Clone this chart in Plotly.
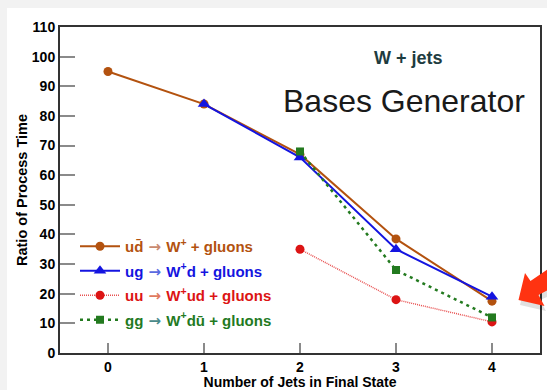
import plotly.graph_objects as go

# Number of jets in the final state
jets = [0, 1, 2, 3, 4]

# Ratio of process time for each subprocess
ud_bar = [95, 84, 67, 38.5, 17.5]
ug = [None, 84, 66, 35, 19]
uu = [None, None, 35, 18, 10.5]
gg = [None, None, 68, 28, 12]

y_ticks = [0, 10, 20, 30, 40, 50, 60, 70, 80, 90, 100, 110]
x_ticks = [0, 1, 2, 3, 4]

W, H = 547, 390
L, R, T, B = 60, 7, 27, 37
PW, PH = W - L - R, H - T - B


def px(x):
    return (x - L) / PW


def py(y):
    return (H - B - y) / PH


FONT = "Liberation Sans, Arial, Helvetica, sans-serif"

BROWN = "#b3520f"
BLUE = "#1414e0"
RED = "#dc1414"
GREEN = "#237a1f"


def label(text, color, arrow_color):
    return (f'<b><span style="color:{color}">{text[0]}</span>'
            f'<span style="color:{arrow_color};font-family:DejaVu Sans"> → </span>'
            f'<span style="color:{color}">{text[1]}</span></b>')


fig = go.Figure()

fig.add_trace(go.Scatter(
    x=jets, y=ud_bar, mode="lines+markers",
    name=label(("ud\u0304", "W<sup>+</sup> + gluons"), BROWN, "#c98a70"),
    line=dict(color=BROWN, width=2),
    marker=dict(symbol="circle", size=9, color=BROWN),
    legendgroup="a", legendrank=1))
fig.add_trace(go.Scatter(
    x=jets, y=ug, mode="lines+markers",
    name=label(("ug", "W<sup>+</sup>d + gluons"), BLUE, "#5a6ae0"),
    line=dict(color=BLUE, width=2),
    marker=dict(symbol="triangle-up", size=11, color=BLUE),
    legendgroup="b", legendrank=2))
fig.add_trace(go.Scatter(
    x=jets, y=uu, mode="lines+markers",
    name=label(("uu", "W<sup>+</sup>ud + gluons"), RED, "#e07a60"),
    line=dict(color="#e85050", width=1.5, dash="1px,1px"),
    marker=dict(symbol="circle", size=9, color=RED),
    legendgroup="c", legendrank=3))
fig.add_trace(go.Scatter(
    x=jets, y=gg, mode="lines+markers",
    name=label(("gg", "W<sup>+</sup>du\u0304 + gluons"), GREEN, "#4a8a8a"),
    line=dict(color=GREEN, width=2.5, dash="3px,4px"),
    marker=dict(symbol="square", size=8, color=GREEN),
    legendgroup="d", legendrank=4))

shapes = [
    # white card on the grey page
    dict(type="rect", xref="paper", yref="paper", layer="below",
         x0=px(7), x1=px(W + 2), y0=py(H + 2), y1=py(8),
         fillcolor="white", line=dict(width=0)),
    # arrow shadow
    dict(type="path", xref="paper", yref="paper", layer="above",
         path=(f"M {px(520)} {py(305)} L {px(527)} {py(278)} L {px(532)} {py(286)} "
               f"L {px(549)} {py(275)} L {px(549)} {py(296)} L {px(540)} {py(300)} "
               f"L {px(546)} {py(311)} Z"),
         fillcolor="rgba(0,0,0,0.12)", line=dict(width=0)),
    # red arrow
    dict(type="path", xref="paper", yref="paper", layer="above",
         path=(f"M {px(518.5)} {py(300)} L {px(525)} {py(273)} L {px(530.5)} {py(281)} "
               f"L {px(548)} {py(269)} L {px(548)} {py(290)} L {px(538.5)} {py(295)} "
               f"L {px(544.5)} {py(306)} Z"),
         fillcolor="#ff3311", line=dict(width=0)),
]

annotations = [
    dict(text="<b>W + jets</b>", xref="paper", yref="paper",
         x=px(408), y=py(58), xanchor="center", yanchor="middle", showarrow=False,
         font=dict(family=FONT, size=18, color="#1e3c40")),
    dict(text="Bases Generator", xref="paper", yref="paper",
         x=px(404), y=py(101), xanchor="center", yanchor="middle", showarrow=False,
         font=dict(family=FONT, size=32, color="#1a1a1a")),
]

fig.update_layout(
    width=W, height=H,
    margin=dict(l=L, r=R, t=T, b=B),
    paper_bgcolor="#f2f2f2", plot_bgcolor="white",
    font=dict(family=FONT, color="black"),
    shapes=shapes, annotations=annotations,
    showlegend=True,
    legend=dict(x=px(75), y=py(230), xanchor="left", yanchor="top",
                bgcolor="rgba(0,0,0,0)", traceorder="grouped",
                tracegroupgap=2, itemwidth=40,
                font=dict(family=FONT, size=15, color="black"),
                borderwidth=0),
)

fig.update_xaxes(
    range=[-0.5, 4.5], tickvals=x_ticks, ticktext=[str(v) for v in x_ticks],
    ticks="inside", ticklen=10, tickwidth=2, tickcolor="#8a8a8a",
    showline=True, linewidth=2, linecolor="#333333", mirror=True,
    showgrid=False, zeroline=False, automargin=False,
    tickfont=dict(family=FONT, size=14, color="black", weight="bold"),
    title=dict(text="<b>Number of Jets in Final State</b>", standoff=4,
               font=dict(family=FONT, size=14, color="black")),
)
fig.update_yaxes(
    range=[0, 110], tickvals=y_ticks, ticktext=[str(v) for v in y_ticks],
    ticks="inside", ticklen=15, tickwidth=2, tickcolor="#8a8a8a",
    showline=True, linewidth=2, linecolor="#333333", mirror=True,
    showgrid=False, zeroline=False, automargin=False,
    tickfont=dict(family=FONT, size=14, color="black", weight="bold"),
    title=dict(text="<b>Ratio of Process Time</b>", standoff=1,
               font=dict(family=FONT, size=14.5, color="black")),
)

fig.write_html("out.html")
